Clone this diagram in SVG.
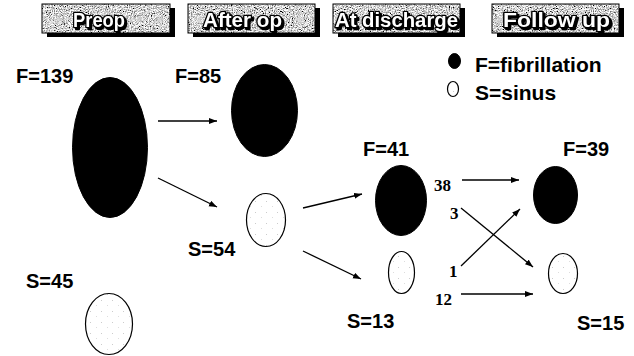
<svg xmlns="http://www.w3.org/2000/svg" width="634" height="356" viewBox="0 0 634 356">
<style>
.lbl{font-family:"Liberation Sans",Arial,sans-serif;font-weight:bold;font-size:20px;fill:#000}
.leg{font-family:"Liberation Sans",Arial,sans-serif;font-weight:bold;font-size:21px;fill:#000}
.num{font-family:"Liberation Serif","Times New Roman",serif;font-weight:bold;font-size:17px;fill:#000}
.hdr{font-family:"Liberation Sans",Arial,sans-serif;font-weight:bold;font-size:20px;fill:#fff;stroke:#000;stroke-width:2.6;paint-order:stroke fill;stroke-linejoin:round;filter:url(#tshadow)}
.shadow{fill:#000}
.box{fill:#bbb;filter:url(#grain)}
.frame{fill:none;stroke:#000;stroke-width:1}
.af{fill:#000;stroke:#000;stroke-width:1}
.sin{fill:url(#dots);stroke:#000;stroke-width:1.2}
.conn line{stroke:#000;stroke-width:1.3;marker-end:url(#ah)}
</style>
<defs>
<filter id="grain" x="0" y="0" width="100%" height="100%">
<feTurbulence type="fractalNoise" baseFrequency="0.95" numOctaves="2" seed="3" result="n"/>
<feColorMatrix in="n" type="matrix" values="1.6 1.6 0 0 -0.95  1.6 1.6 0 0 -0.95  1.6 1.6 0 0 -0.95  0 0 0 0 1" result="g"/>
<feComposite in="g" in2="SourceGraphic" operator="in"/>
</filter>
<filter id="tshadow" x="-10%" y="-20%" width="130%" height="150%">
<feOffset in="SourceAlpha" dx="2" dy="2" result="o"/>
<feFlood flood-color="#000"/>
<feComposite in2="o" operator="in" result="s"/>
<feMerge><feMergeNode in="s"/><feMergeNode in="SourceGraphic"/></feMerge>
</filter>
<pattern id="dots" width="11" height="11" patternUnits="userSpaceOnUse">
<rect width="11" height="11" fill="#fff"/>
<rect x="2" y="3" width="1" height="1" fill="#ccc"/>
<rect x="8" y="8" width="1" height="1" fill="#ddd"/>
</pattern>
<marker id="ah" markerUnits="userSpaceOnUse" markerWidth="9" markerHeight="7" refX="8" refY="3" orient="auto">
<path d="M0,0 L8,3 L0,6 z" fill="#000"/>
</marker>
</defs>
<rect width="634" height="356" fill="#fff"/>

<g id="hdr-preop">
<rect class="shadow" x="47" y="8" width="128" height="29"/>
<rect class="box" x="42" y="4" width="128" height="29"/>
<rect class="frame" x="42" y="4" width="128" height="29"/>
<text class="hdr" x="73" y="27" textLength="52" lengthAdjust="spacingAndGlyphs">Preop</text>
</g>
<g id="hdr-afterop">
<rect class="shadow" x="193" y="8" width="127" height="29"/>
<rect class="box" x="188" y="4" width="127" height="29"/>
<rect class="frame" x="188" y="4" width="127" height="29"/>
<text class="hdr" x="203" y="27" textLength="79" lengthAdjust="spacingAndGlyphs">After op</text>
</g>
<g id="hdr-discharge">
<rect class="shadow" x="338" y="8" width="127" height="29"/>
<rect class="box" x="333" y="4" width="127" height="29"/>
<rect class="frame" x="333" y="4" width="127" height="29"/>
<text class="hdr" x="335" y="27" textLength="123" lengthAdjust="spacingAndGlyphs">At discharge</text>
</g>
<g id="hdr-followup">
<rect class="shadow" x="497" y="8" width="127" height="29"/>
<rect class="box" x="492" y="4" width="127" height="29"/>
<rect class="frame" x="492" y="4" width="127" height="29"/>
<text class="hdr" x="503" y="27" textLength="107" lengthAdjust="spacingAndGlyphs">Follow up</text>
</g>

<g id="legend">
<ellipse class="af" cx="454.5" cy="61" rx="6" ry="7.5"/>
<text class="leg" x="475" y="72">F=fibrillation</text>
<ellipse class="sin" cx="453" cy="89" rx="5.5" ry="7.5"/>
<text class="leg" x="475" y="100">S=sinus</text>
</g>

<g id="preop-f">
<ellipse class="af" cx="110" cy="147.5" rx="37.5" ry="70"/>
<text class="lbl" x="16" y="83">F=139</text>
</g>
<g id="preop-s">
<ellipse class="sin" cx="109" cy="324" rx="23.5" ry="30.5"/>
<text class="lbl" x="26" y="288">S=45</text>
</g>
<g id="afterop-f">
<ellipse class="af" cx="264.5" cy="110.5" rx="33" ry="46"/>
<text class="lbl" x="175" y="83">F=85</text>
</g>
<g id="afterop-s">
<ellipse class="sin" cx="266" cy="220" rx="19.5" ry="26.5"/>
<text class="lbl" x="188" y="256">S=54</text>
</g>
<g id="discharge-f">
<ellipse class="af" cx="401" cy="200.5" rx="25.5" ry="35"/>
<text class="lbl" x="363" y="156">F=41</text>
</g>
<g id="discharge-s">
<ellipse class="sin" cx="401.5" cy="272.5" rx="13" ry="21"/>
<text class="lbl" x="347" y="328">S=13</text>
</g>
<g id="followup-f">
<ellipse class="af" cx="555.5" cy="195" rx="22" ry="28.5"/>
<text class="lbl" x="563" y="156">F=39</text>
</g>
<g id="followup-s">
<ellipse class="sin" cx="563" cy="273.5" rx="14.5" ry="20"/>
<text class="lbl" x="577" y="330">S=15</text>
</g>

<g id="connectors" class="conn">
<line x1="158" y1="121" x2="217" y2="121"/>
<line x1="158" y1="178" x2="217" y2="207"/>
<line x1="303" y1="208" x2="362" y2="194"/>
<line x1="303" y1="251" x2="361" y2="279"/>
<line x1="462" y1="180" x2="519" y2="180"/>
<line x1="461" y1="208" x2="533" y2="267"/>
<line x1="461" y1="266" x2="520" y2="209"/>
<line x1="461" y1="294" x2="533" y2="294"/>
<text class="num" x="434" y="191">38</text>
<text class="num" x="450" y="219">3</text>
<text class="num" x="449" y="277">1</text>
<text class="num" x="435" y="305">12</text>
</g>
</svg>
